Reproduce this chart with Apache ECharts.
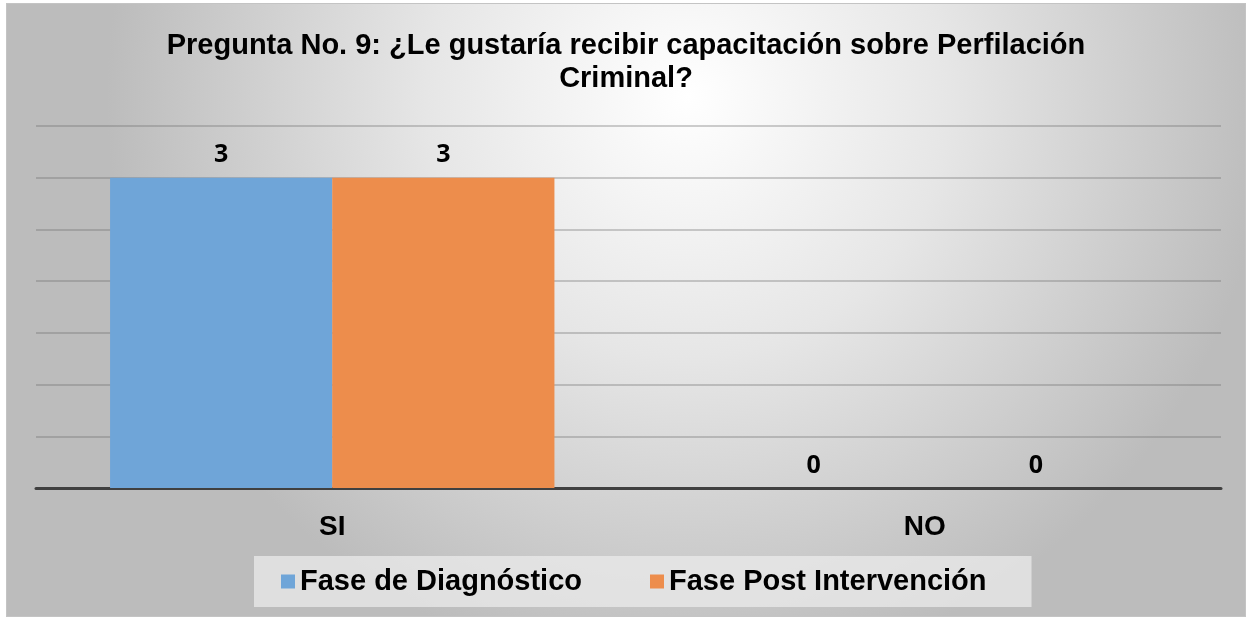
<!DOCTYPE html>
<html lang="es">
<head>
  <meta charset="UTF-8">
  <title>Pregunta No. 9</title>
  <script src="https://cdn.jsdelivr.net/npm/echarts@6.0.0/dist/echarts.min.js"></script>
  <style>
    html, body { margin: 0; padding: 0; background: #fff; }
    #main { position: absolute; left: 6px; top: 3px; width: 1240px; height: 614px;
            box-sizing: border-box; border: 1px solid #c4c4c4; }
  </style>
</head>
<body>
  <div id="main"></div>

  <script type="text/javascript">
    // chart data
    const categories = ['SI', 'NO'];
    const diagnostico = [3, 0];
    const postIntervencion = [3, 0];
    const seriesNames = ['Fase de Diagnóstico', 'Fase Post Intervención'];

    let myChart = echarts.init(document.getElementById('main'));

    const labelStyle = {
      show: true,
      position: 'top',
      distance: 10,
      color: '#000',
      fontFamily: 'Open Sans',
      fontWeight: 'bold',
      fontSize: 25
    };

    let options = {
      backgroundColor: {
        type: 'radial', x: 0.55, y: 0.15, r: 0.95,
        colorStops: [
          { offset: 0, color: '#ffffff' },
          { offset: 0.45, color: '#e6e6e6' },
          { offset: 1, color: '#bcbcbc' }
        ]
      },
      title: {
        text: 'Pregunta No. 9: ¿Le gustaría recibir capacitación sobre Perfilación\nCriminal?',
        left: 'center',
        top: 20,
        textStyle: {
          fontFamily: 'Liberation Sans',
          fontWeight: 'bold',
          fontSize: 29,
          lineHeight: 33,
          color: '#000'
        }
      },
      legend: {
        data: seriesNames,
        bottom: 9,
        left: 247,
        backgroundColor: 'rgba(235,235,235,0.75)',
        padding: [11, 45, 11, 27],
        itemGap: 68,
        itemWidth: 14,
        itemHeight: 14,
        icon: 'rect',
        textStyle: {
          fontFamily: 'Liberation Sans',
          fontWeight: 'bold',
          fontSize: 29,
          color: '#000'
        }
      },
      grid: { left: 29, right: 24, top: 122, bottom: 128 },
      xAxis: {
        type: 'category',
        data: categories,
        axisLine: { lineStyle: { color: '#404040', width: 3 } },
        axisTick: { show: false },
        axisLabel: {
          margin: 25,
          color: '#000',
          fontFamily: 'Liberation Sans',
          fontWeight: 'bold',
          fontSize: 28
        }
      },
      yAxis: {
        type: 'value',
        min: 0,
        max: 3.5,
        interval: 0.5,
        axisLabel: { show: false },
        axisLine: { show: false },
        axisTick: { show: false },
        splitLine: { lineStyle: { color: 'rgba(110,110,110,0.45)', width: 1.5 } }
      },
      series: [
        {
          name: seriesNames[0],
          type: 'bar',
          data: diagnostico,
          barGap: '0%',
          barCategoryGap: '25%',
          itemStyle: { color: '#6fa5d8' },
          label: labelStyle
        },
        {
          name: seriesNames[1],
          type: 'bar',
          data: postIntervencion,
          itemStyle: { color: '#ed8d4c' },
          label: labelStyle
        }
      ]
    };

    myChart.setOption(options);
  </script>
</body>
</html>
